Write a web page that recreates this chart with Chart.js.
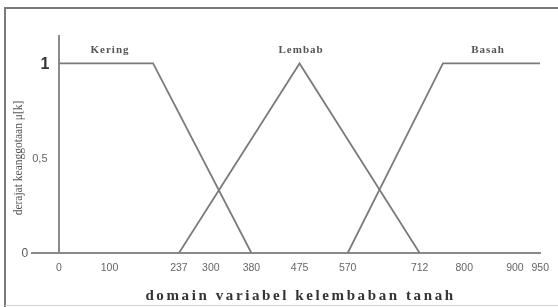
<!DOCTYPE html>
<html>
<head>
<meta charset="utf-8">
<script src="https://cdn.jsdelivr.net/npm/chart.js@4"></script>
<style>
  html, body { margin: 0; padding: 0; background: #fff; overflow: hidden; }
  #c { display: block; }
</style>
</head>
<body>
<canvas id="c" width="558" height="307"></canvas>
<script>
// ---- data ----
const seriesNames = ['Kering', 'Lembab', 'Basah'];
const keringX = [0, 186, 380];
const keringY = [1, 1, 0];
const lembabX = [237, 475, 712];
const lembabY = [0, 1, 0];
const basahX = [570, 758, 950];
const basahY = [0, 1, 1];
const xTicks = [0, 100, 237, 300, 380, 475, 570, 712, 800, 900, 950];
const yTicks = [0, 0.5, 1];
const yTickLabels = ['0', '0,5', '1'];
const xTitle = 'domain variabel kelembaban tanah';
const yTitle = 'derajat keanggotaan \u03bc[k]';

const pts = (xs, ys) => xs.map((x, i) => ({ x: x, y: ys[i] }));
const lineColor = '#7b7b7b';

// label anchor positions (styling, in data units)
const nameAnchors = [ { x: 101, y: 1.07 }, { x: 478, y: 1.07 }, { x: 847, y: 1.07 } ];

const framePlugin = {
  id: 'frame',
  beforeDraw(chart) {
    const ctx = chart.ctx;
    ctx.save();
    ctx.strokeStyle = '#7a7a7a';
    ctx.lineWidth = 2;
    ctx.beginPath();
    ctx.moveTo(5, 307);
    ctx.lineTo(5, 8);
    ctx.lineTo(558, 8);
    ctx.stroke();
    ctx.strokeStyle = '#d0d0d0';
    ctx.lineWidth = 1;
    ctx.beginPath();
    ctx.moveTo(5, 305.5);
    ctx.lineTo(558, 305.5);
    ctx.stroke();
    ctx.restore();
  }
};

const textPlugin = {
  id: 'texts',
  afterDraw(chart) {
    const ctx = chart.ctx;
    const xs = chart.scales.x, ys = chart.scales.y;
    const x0 = xs.getPixelForValue(0);
    ctx.save();
    ctx.textBaseline = 'middle';
    ctx.textAlign = 'center';
    yTicks.forEach((v, i) => {
      const py = ys.getPixelForValue(v);
      if (v === 1) {
        ctx.font = 'bold 16px "Liberation Sans", Arial, sans-serif';
        ctx.fillStyle = '#333';
        ctx.fillText(yTickLabels[i], x0 - 14, py + 1);
      } else if (v === 0) {
        ctx.font = '12px "Liberation Sans", Arial, sans-serif';
        ctx.fillStyle = '#555';
        ctx.fillText(yTickLabels[i], x0 - 34, py + 1);
      } else {
        ctx.font = '11px "Liberation Sans", Arial, sans-serif';
        ctx.fillStyle = '#666';
        ctx.fillText(yTickLabels[i], x0 - 19, py + 1);
      }
    });
    ctx.font = 'bold 11px "Liberation Serif", "Times New Roman", serif';
    ctx.fillStyle = '#555';
    ctx.letterSpacing = '1px';
    seriesNames.forEach((n, i) => {
      ctx.fillText(n, xs.getPixelForValue(nameAnchors[i].x), ys.getPixelForValue(nameAnchors[i].y));
    });
    ctx.font = 'bold 15px "Liberation Serif", "Times New Roman", serif';
    ctx.fillStyle = '#333';
    ctx.letterSpacing = '2.6px';
    ctx.fillText(xTitle, xs.getPixelForValue(475) + 1, 296);
    ctx.letterSpacing = '0px';
    ctx.font = '11.5px "Liberation Serif", "Times New Roman", serif';
    ctx.fillStyle = '#555';
    ctx.translate(19, 158);
    ctx.rotate(-Math.PI / 2);
    ctx.fillText(yTitle, 0, 0);
    ctx.restore();
  }
};

const mk = (label, data) => ({
  label, data, borderColor: lineColor, borderWidth: 1.8, pointRadius: 0, fill: false, tension: 0
});

new Chart(document.getElementById('c'), {
  type: 'line',
  data: {
    datasets: [
      mk(seriesNames[0], pts(keringX, keringY)),
      mk(seriesNames[1], pts(lembabX, lembabY)),
      mk(seriesNames[2], pts(basahX, basahY))
    ]
  },
  options: {
    responsive: false,
    animation: false,
    events: [],
    layout: { padding: { top: 35, right: 17, left: 0, bottom: 0 } },
    plugins: { legend: { display: false }, tooltip: { enabled: false }, title: { display: false } },
    scales: {
      x: {
        type: 'linear', min: -53, max: 950,
        afterBuildTicks: (s) => { s.ticks = xTicks.map(v => ({ value: v })); },
        afterFit: (s) => { s.height = 54; },
        ticks: {
          autoSkip: false, maxRotation: 0, padding: 9,
          color: '#666', font: { family: '"Liberation Sans", Arial, sans-serif', size: 10.5 },
          callback: (v) => String(v)
        },
        grid: {
          drawTicks: false,
          color: (c) => (c.tick && c.tick.value === 0 ? '#8a8a8a' : 'rgba(0,0,0,0)'),
          lineWidth: 2
        },
        border: { display: true, color: '#8a8a8a', width: 2 }
      },
      y: {
        type: 'linear', min: 0, max: 1.15,
        afterFit: (s) => { s.width = 32; },
        ticks: { display: false },
        grid: { display: false },
        border: { display: false }
      }
    }
  },
  plugins: [framePlugin, textPlugin]
});
</script>
</body>
</html>
